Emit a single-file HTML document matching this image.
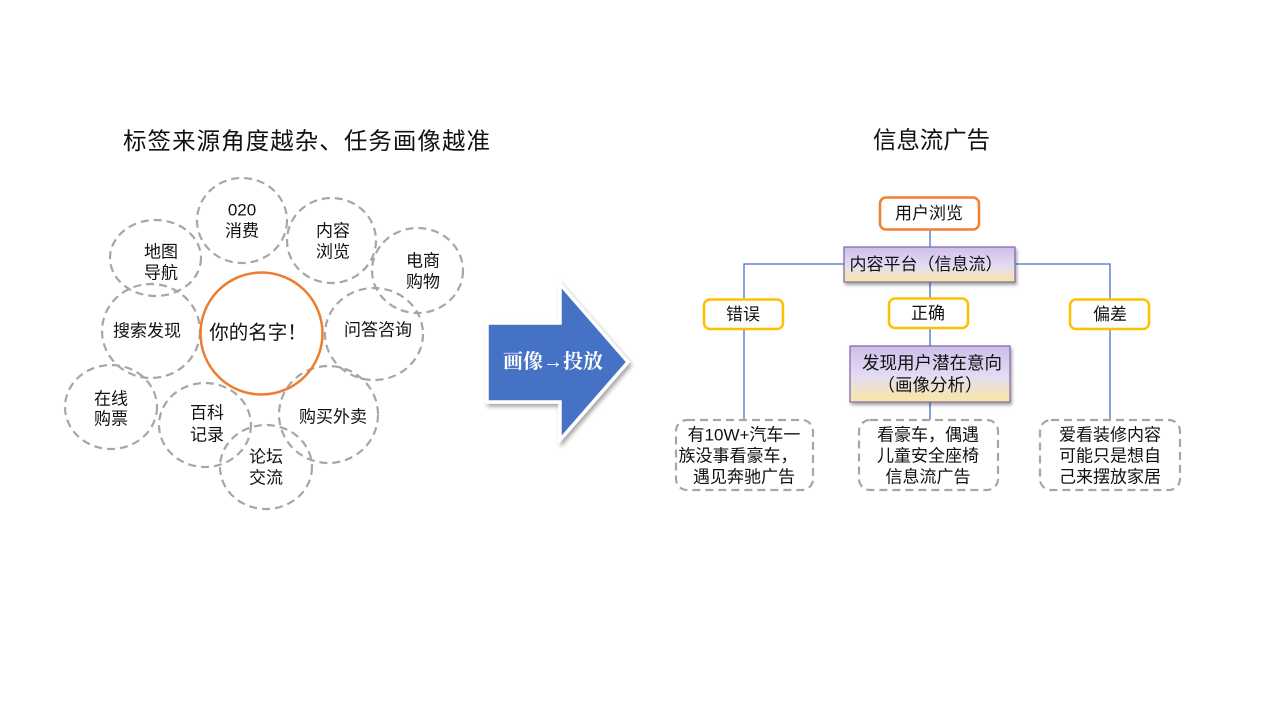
<!DOCTYPE html>
<html>
<head>
<meta charset="utf-8">
<style>
html,body{margin:0;padding:0;background:#fff;}
svg{display:block;}
text{font-family:"Liberation Sans","Noto Sans CJK SC",sans-serif;fill:#111;}
</style>
</head>
<body>
<svg width="1280" height="720" viewBox="0 0 1280 720" xmlns="http://www.w3.org/2000/svg">
<defs>
  <linearGradient id="pg" x1="0" y1="0" x2="0" y2="1">
    <stop offset="0" stop-color="#cdbfeb"/>
    <stop offset="0.55" stop-color="#e4dcf3"/>
    <stop offset="1" stop-color="#fbe7a3"/>
  </linearGradient>
  <filter id="sh" x="-20%" y="-20%" width="150%" height="160%">
    <feGaussianBlur in="SourceAlpha" stdDeviation="1.5"/>
    <feOffset dx="1.5" dy="2.5" result="o"/>
    <feComponentTransfer><feFuncA type="linear" slope="0.35"/></feComponentTransfer>
    <feMerge><feMergeNode/><feMergeNode in="SourceGraphic"/></feMerge>
  </filter>
  <filter id="ash" x="-20%" y="-20%" width="150%" height="150%">
    <feGaussianBlur in="SourceAlpha" stdDeviation="2"/>
    <feOffset dx="2" dy="3" result="o"/>
    <feComponentTransfer><feFuncA type="linear" slope="0.35"/></feComponentTransfer>
    <feMerge><feMergeNode/><feMergeNode in="SourceGraphic"/></feMerge>
  </filter>
</defs>

<!-- Titles -->
<text x="123" y="141" font-size="23.5" textLength="367" lengthAdjust="spacing" dominant-baseline="central">标签来源角度越杂、任务画像越准</text>
<text x="873" y="140" font-size="23.5" textLength="117" lengthAdjust="spacing" dominant-baseline="central">信息流广告</text>

<!-- Dashed circles -->
<g fill="none" stroke="#a6a6a6" stroke-width="2.2" stroke-dasharray="8 5">
  <ellipse cx="242" cy="220.5" rx="45" ry="42.5"/>
  <ellipse cx="331.5" cy="240.5" rx="44.5" ry="42.5"/>
  <ellipse cx="417.5" cy="270.5" rx="45.5" ry="42.5"/>
  <ellipse cx="155.5" cy="258" rx="45.5" ry="38"/>
  <ellipse cx="151" cy="331" rx="49" ry="47"/>
  <ellipse cx="374" cy="334" rx="49" ry="46"/>
  <ellipse cx="111" cy="407" rx="46" ry="42"/>
  <ellipse cx="205" cy="425" rx="46" ry="42"/>
  <ellipse cx="328.5" cy="414.5" rx="49.5" ry="48.5"/>
  <ellipse cx="266" cy="467" rx="46" ry="42"/>
</g>
<!-- Orange circle -->
<circle cx="261.5" cy="333.5" r="61" fill="none" stroke="#ed7d31" stroke-width="2.5"/>

<!-- Circle labels -->
<g font-size="17" text-anchor="middle">
  <text x="242" y="210" dominant-baseline="central">020</text>
  <text x="242" y="231" dominant-baseline="central">消费</text>
  <text x="333" y="231" dominant-baseline="central">内容</text>
  <text x="333" y="252" dominant-baseline="central">浏览</text>
  <text x="423" y="261" dominant-baseline="central">电商</text>
  <text x="423" y="282" dominant-baseline="central">购物</text>
  <text x="161" y="252" dominant-baseline="central">地图</text>
  <text x="161" y="273" dominant-baseline="central">导航</text>
  <text x="147" y="331" dominant-baseline="central">搜索发现</text>
  <text x="378" y="330" dominant-baseline="central">问答咨询</text>
  <text x="111" y="399" dominant-baseline="central">在线</text>
  <text x="111" y="419" dominant-baseline="central">购票</text>
  <text x="207" y="413" dominant-baseline="central">百科</text>
  <text x="207" y="435" dominant-baseline="central">记录</text>
  <text x="333" y="417" dominant-baseline="central">购买外卖</text>
  <text x="266" y="457" dominant-baseline="central">论坛</text>
  <text x="266" y="478" dominant-baseline="central">交流</text>
</g>
<text x="258" y="333" font-size="19.5" text-anchor="middle" dominant-baseline="central">你的名字！</text>

<!-- Big arrow -->
<polygon points="487,323 560,323 560,284 628,362 560,440 560,402 487,402" fill="#4472c4" stroke="#ffffff" stroke-width="3.5" stroke-linejoin="miter" filter="url(#ash)"/>
<text x="553" y="362" font-size="20" font-weight="bold" text-anchor="middle" dominant-baseline="central" style="fill:#fff;font-family:'Liberation Serif','Noto Serif CJK SC',serif;">画像→投放</text>

<!-- Connectors -->
<g stroke="#4472c4" stroke-width="1.3" fill="none">
  <line x1="930" y1="230" x2="930" y2="247"/>
  <polyline points="744,299 744,264 1110,264 1110,299"/>
  <line x1="930" y1="282" x2="930" y2="298"/>
  <line x1="930" y1="328" x2="930" y2="346"/>
  <line x1="930" y1="402" x2="930" y2="420"/>
  <line x1="744" y1="329" x2="744" y2="420"/>
  <line x1="1110" y1="329" x2="1110" y2="420"/>
</g>

<!-- 用户浏览 -->
<rect x="880" y="197.5" width="99" height="32" rx="6" fill="#fff" stroke="#f08030" stroke-width="2.5"/>
<text x="929" y="213.5" font-size="17" text-anchor="middle" dominant-baseline="central">用户浏览</text>

<!-- 内容平台 -->
<rect x="844" y="247" width="171" height="35" fill="url(#pg)" stroke="#8064a2" stroke-width="1.2" filter="url(#sh)"/>
<text x="926" y="264.5" font-size="17" text-anchor="middle" dominant-baseline="central">内容平台（信息流）</text>

<!-- yellow boxes -->
<g fill="#fff" stroke="#ffc000" stroke-width="2.5">
  <rect x="704" y="299.5" width="79" height="29.5" rx="6"/>
  <rect x="889" y="298.5" width="79" height="29.5" rx="6"/>
  <rect x="1070" y="299.5" width="79" height="29.5" rx="6"/>
</g>
<g font-size="17" text-anchor="middle">
  <text x="743" y="314.5" dominant-baseline="central">错误</text>
  <text x="928" y="313.5" dominant-baseline="central">正确</text>
  <text x="1110" y="314.5" dominant-baseline="central">偏差</text>
</g>

<!-- 发现用户潜在意向 -->
<rect x="850" y="346" width="160" height="56" fill="url(#pg)" stroke="#8064a2" stroke-width="1.2" filter="url(#sh)"/>
<text x="932" y="363" font-size="17.5" text-anchor="middle" dominant-baseline="central">发现用户潜在意向</text>
<text x="930" y="385" font-size="17.5" text-anchor="middle" dominant-baseline="central">（画像分析）</text>

<!-- dashed result boxes -->
<g fill="#fff" stroke="#a6a6a6" stroke-width="2.2" stroke-dasharray="8 5">
  <rect x="676" y="420" width="137" height="70" rx="11"/>
  <rect x="859" y="420" width="139" height="70" rx="11"/>
  <rect x="1040" y="420" width="140" height="70" rx="11"/>
</g>
<g font-size="17" text-anchor="middle">
  <text x="744" y="435" dominant-baseline="central">有10W+汽车一</text>
  <text x="738" y="456" dominant-baseline="central">族没事看豪车，</text>
  <text x="744" y="477" dominant-baseline="central">遇见奔驰广告</text>
  <text x="928" y="435" dominant-baseline="central">看豪车，偶遇</text>
  <text x="928" y="456" dominant-baseline="central">儿童安全座椅</text>
  <text x="928" y="477" dominant-baseline="central">信息流广告</text>
  <text x="1110" y="435" dominant-baseline="central">爱看装修内容</text>
  <text x="1110" y="456" dominant-baseline="central">可能只是想自</text>
  <text x="1110" y="477" dominant-baseline="central">己来摆放家居</text>
</g>
</svg>
</body>
</html>
